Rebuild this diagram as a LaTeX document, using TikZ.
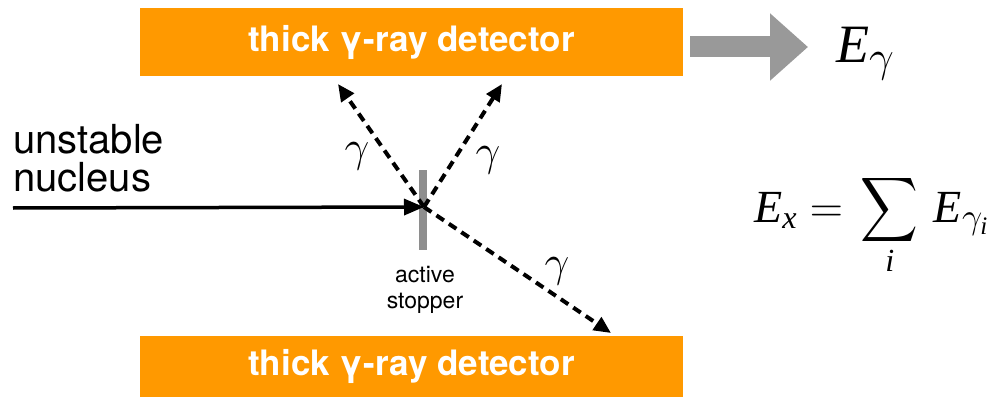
\RequirePackage{fix-cm}
\documentclass[tikz,border=0pt]{standalone}
\usepackage{fontspec}
\usepackage{amsmath}
\usepackage{graphicx}
\setmainfont{TeX Gyre Heros}
\newfontfamily\tms{Liberation Serif}
\usetikzlibrary{arrows.meta}
\definecolor{detorange}{HTML}{FF9900}
\definecolor{midgray}{HTML}{999999}
\definecolor{bargray}{HTML}{8E8E8E}
\newcommand\tmi[1]{\text{\tms\itshape #1}}
% large summation sign, built from the 10pt glyph and scaled up
\newcommand\bigsum{\mathop{\vcenter{\hbox{\scalebox{4.0}[4.5]{\fontsize{10}{12}\selectfont$\displaystyle\sum$}}}}}
\tikzset{
  detector/.style={fill=detorange, draw=none, minimum width=543pt, inner sep=0pt,
    text=white, font=\fontsize{35}{38}\selectfont\bfseries},
  gammaray/.style={draw=black, line width=4pt, dash pattern=on 9pt off 6pt,
    -{Triangle[length=17pt,width=15pt]}},
  beam/.style={draw=black, line width=3.5pt, -{Triangle[length=20pt,width=16pt]}},
  glabel/.style={font=\fontsize{44}{46}\selectfont, inner sep=0pt},
}
\begin{document}
\begin{tikzpicture}[x=1pt,y=-1pt]
  \useasboundingbox (0,0) rectangle (1002,404);
  \fill[white] (0,0) rectangle (1002,404);

  % detectors
  \node[detector, minimum height=68pt] (topdet) at (411.5,42) {thick γ-ray detector};
  \node[detector, minimum height=61pt] (botdet) at (411.5,366.5) {thick γ-ray detector};

  % energy readout
  \node[anchor=base west, inner sep=0pt, font=\fontsize{54}{58}\selectfont] (Eg) at (836,63)
    {$\tmi{E}_{\mbox{\fontsize{44}{46}\selectfont$\gamma$}}$};
  \draw[midgray, line width=21pt, -{Triangle[length=38pt,width=65pt]}]
    ([xshift=7pt]topdet.east |- 0,47) -- (808,47) coordinate (tipE);

  % incoming nucleus and stopper
  \node[anchor=base west, align=left, inner sep=0pt,
    font=\fontsize{40}{38}\selectfont] (nuc) at (13,191) {unstable\\nucleus};
  \node[fill=bargray, minimum width=8pt, minimum height=80pt, inner sep=0pt] (stop) at (423,210) {};
  \coordinate (o) at (424,207);
  \draw[beam] (nuc.south west |- 0,208) -- (o);
  \node[align=center, inner sep=0pt, font=\fontsize{23}{26}\selectfont, anchor=base]
    (stoplbl) at (425,308) {active\\stopper};

  % emitted gamma rays
  \coordinate (g1) at (338,84);
  \coordinate (g2) at (502,84);
  \coordinate (g3) at (611,333);
  \draw[gammaray] (o) -- (g1);
  \draw[gammaray] (o) -- (g2);
  \draw[gammaray] (o) -- (g3);
  \node[glabel] (l1) at (357,156) {$\gamma$};
  \node[glabel] (l2) at (488,160) {$\gamma$};
  \node[glabel] (l3) at (557,271) {$\gamma$};

  % excitation energy
  \node[anchor=base west, inner sep=0pt, font=\fontsize{46}{50}\selectfont] (Ex) at (754,222)
    {$\tmi{E}_{\tmi{x}} =\mkern2mu \bigsum\limits_{\tmi{i}} \mkern3mu
      \tmi{E}_{\mbox{\fontsize{36}{38}\selectfont$\gamma_{\tmi{i}}$}}$};
\end{tikzpicture}
\end{document}
